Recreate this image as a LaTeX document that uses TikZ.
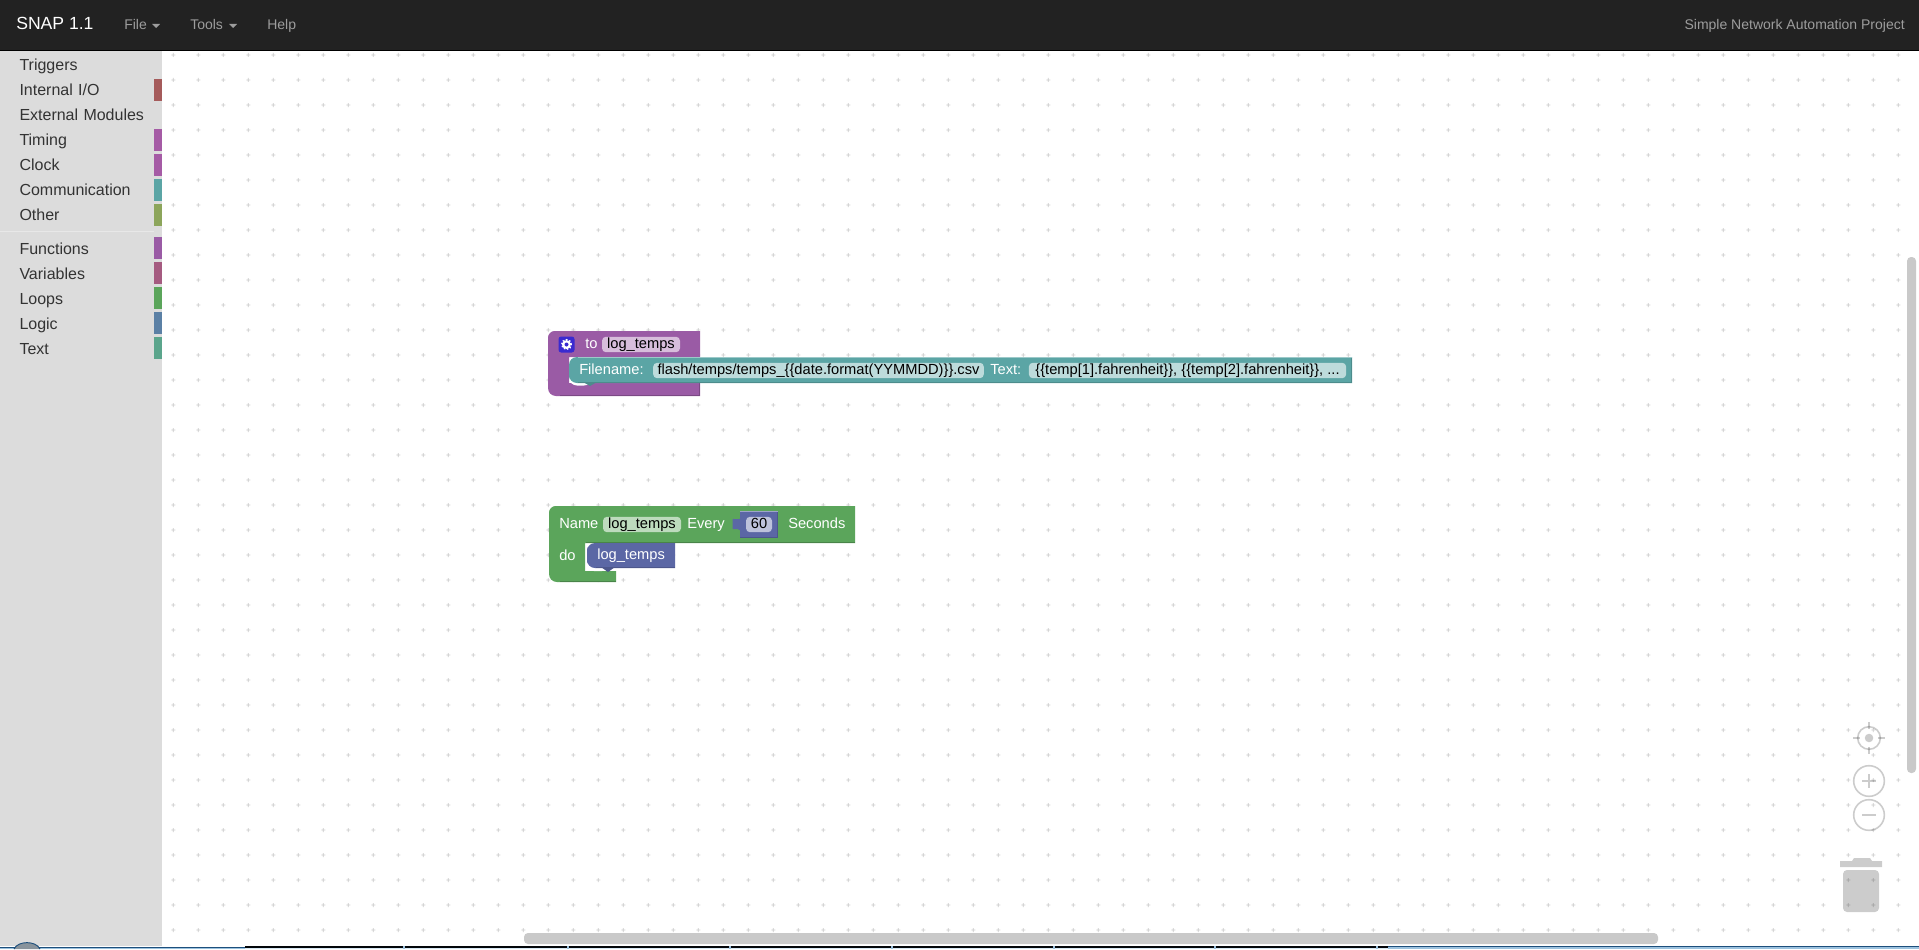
\documentclass[tikz,border=0pt]{standalone}
\usepackage{fontspec}
\setmainfont{Liberation Sans}
\usetikzlibrary{positioning}

\definecolor{navbg}{HTML}{222222}
\definecolor{navtext}{HTML}{9D9D9D}
\definecolor{sidebg}{HTML}{DCDCDC}
\definecolor{sidetext}{HTML}{333333}
\definecolor{purpleblock}{HTML}{9A5BA5}
\definecolor{purplefield}{HTML}{D7BDDB}
\definecolor{tealblock}{HTML}{5BA5A5}
\definecolor{tealfield}{HTML}{BDDBDB}
\definecolor{greenblock}{HTML}{5BA55B}
\definecolor{greenfield}{HTML}{BDDBBD}
\definecolor{blueblock}{HTML}{5B67A5}
\definecolor{bluefield}{HTML}{BDC2DB}
\definecolor{gearblue}{HTML}{3A2AD0}
\definecolor{redtab}{HTML}{A55B5B}
\definecolor{magentatab}{HTML}{A55BA5}
\definecolor{olivetab}{HTML}{8CA55B}
\definecolor{rosetab}{HTML}{A55B80}
\definecolor{slatetab}{HTML}{5B80A5}
\definecolor{minttab}{HTML}{5BA58C}
\definecolor{taskblue}{HTML}{9CC2DE}
\definecolor{tasknavy}{HTML}{1D4F7C}

\begin{document}
\begin{tikzpicture}[
    x=0.75pt, y=-0.75pt,
    navitem/.style={text=navtext, font=\fontsize{10.5}{12}\selectfont, inner sep=0pt, anchor=west, text height=8pt, text depth=2.5pt},
    sideitem/.style={text=sidetext, font=\fontsize{12}{14}\selectfont, inner sep=0pt, outer sep=0pt, text width=105pt, align=left, minimum height=18.75pt, text height=9pt, text depth=3pt},
    swatch/.style={minimum width=6pt, minimum height=16.5pt, inner sep=0pt, outer sep=0pt, anchor=north west},
    blocktext/.style={text=white, font=\fontsize{11}{13}\selectfont, inner sep=0pt, anchor=west, text height=8pt, text depth=2.5pt},
    fieldbox/.style={rounded corners=3pt, minimum height=11.6pt, inner sep=0pt, text=black, font=\fontsize{11}{13}\selectfont, text height=8pt, text depth=2.5pt},
    icon/.style={draw=black, draw opacity=0.2, line width=1.2pt},
    iconfill/.style={fill=black, fill opacity=0.2}
]

% Canvas and dots
\useasboundingbox (0,0) rectangle (1919,949);
\fill[white] (0,0) rectangle (1919,949);
\foreach \px in {0,...,69}
  \foreach \py in {0,...,35}
    \fill[black!20] ({173.3+25*\px-2},{55+25*\py-0.4}) rectangle ({173.3+25*\px+2},{55+25*\py+0.4})
                    ({173.3+25*\px-0.4},{55+25*\py-2}) rectangle ({173.3+25*\px+0.4},{55+25*\py+2});

% Top bar
\fill[navbg] (0,0) rectangle (1919,50);
\fill[black] (0,50) rectangle (1919,51);
\node[navitem, text=white, font=\fontsize{13.2}{15}\selectfont] (brand) at (16,25.5) {SNAP 1.1};
\node[navitem] (filemenu) at (124,25.5) {File};
\node[navitem] (toolsmenu) at (190,25.5) {Tools};
\node[navitem] (helpmenu) at (267,25.5) {Help};
\node[navitem, anchor=east] (project) at (1905,25.5) {Simple Network Automation Project};
\fill[navtext] (152,24) -- (160,24) -- (156,28) -- cycle;
\fill[navtext] (229,24) -- (237,24) -- (233,28) -- cycle;

% Side bar
\fill[sidebg] (0,51) rectangle (162,946);
\fill[white!35!sidebg] (0,231) rectangle (154,232);
\node[sideitem, anchor=west] (triggers) at (19.5,66.8) {Triggers};
\node[sideitem, below=0pt of triggers] (internal) {Internal I/O};
\node[sideitem, below=0pt of internal] (external) {External Modules};
\node[sideitem, below=0pt of external] (timing) {Timing};
\node[sideitem, below=0pt of timing] (clock) {Clock};
\node[sideitem, below=0pt of clock] (communication) {Communication};
\node[sideitem, below=0pt of communication] (other) {Other};
\node[sideitem, anchor=west] (functions) at (19.5,250) {Functions};
\node[sideitem, below=0pt of functions] (variables) {Variables};
\node[sideitem, below=0pt of variables] (loops) {Loops};
\node[sideitem, below=0pt of loops] (logic) {Logic};
\node[sideitem, below=0pt of logic] (textitem) {Text};

% Colour tabs
\node[swatch, fill=redtab] (tabinternal) at (154,79) {};
\node[swatch, fill=magentatab] (tabtiming) at (154,129) {};
\node[swatch, fill=magentatab] (tabclock) at (154,154) {};
\node[swatch, fill=tealblock] (tabcomm) at (154,179) {};
\node[swatch, fill=olivetab] (tabother) at (154,204) {};
\node[swatch, fill=purpleblock] (tabfunctions) at (154,237) {};
\node[swatch, fill=rosetab] (tabvariables) at (154,262) {};
\node[swatch, fill=greenblock] (tabloops) at (154,287) {};
\node[swatch, fill=slatetab] (tablogic) at (154,312) {};
\node[swatch, fill=minttab] (tabtext) at (154,337) {};

% Function block
\fill[purpleblock, rounded corners=5pt] (548,360) -- (548,331) [sharp corners] -- (700,331) -- (700,357) -- (569,357) -- (569,383) -- (700,383) -- (700,396) [rounded corners=6pt] -- (548,396) -- (548,360) -- cycle;
\fill[purpleblock!80!black] (699,383) rectangle (700,396);
\fill[purpleblock!80!black] (560,395) rectangle (700,396);
\fill[white, rounded corners=6pt] (569,370) -- (569,385.5) -- (592,385.5) [sharp corners] -- (592,378) -- cycle;
\fill[tealblock, rounded corners=6pt] (569,372) -- (569,357) [sharp corners] -- (1352,357) -- (1352,383) [rounded corners=6pt] -- (569,383) -- (569,372) -- cycle;
\fill[tealblock!60!white] (578,357) rectangle (1352,358);
\fill[tealblock!85!black] (578,382) rectangle (1352,383);
\fill[tealblock!85!black] (1351,358) rectangle (1352,383);
\fill[tealblock!85!black] (583,382) -- (590,386) -- (597,382) -- cycle;
\node[fill=gearblue, rounded corners=2pt, minimum size=12pt, inner sep=0pt] (gear) at (566.5,344.5) {};
\fill[white] (gear.center) circle (3.3pt);
\draw[white, line width=1.1pt, dash pattern=on 1.2pt off 1.2pt] (gear.center) circle (3.6pt);
\fill[gearblue] (gear.center) circle (1.5pt);
\node[blocktext] (tolabel) at (585,344.5) {to};
\node[fieldbox, fill=purplefield, minimum width=58.5pt] (funcname) at (641,344.5) {log\_temps};
\node[blocktext] (filelabel) at (579,370.5) {Filename:};
\node[fieldbox, fill=tealfield, minimum width=248pt] (filename) at (818.5,370.5) {flash/temps/temps\_\{\{date.format(YYMMDD)\}\}.csv};
\node[blocktext] (textlabel) at (990,370.5) {Text:};
\node[fieldbox, fill=tealfield, minimum width=238pt] (textfield) at (1187.5,370.5) {\{\{temp[1].fahrenheit\}\}, \{\{temp[2].fahrenheit\}\}, ...};

% Timer block
\fill[greenblock, rounded corners=5pt] (549,530) -- (549,506) [sharp corners] -- (855,506) -- (855,543) -- (585,543) -- (585,571) -- (616,571) -- (616,582) [rounded corners=6pt] -- (549,582) -- (549,530) -- cycle;
\fill[greenblock!80!black] (586,542) rectangle (855,543);
\fill[greenblock!80!black] (560,581) rectangle (616,582);
\fill[white, rounded corners=6pt] (586,556) -- (586,571) -- (610,571) [sharp corners] -- (610,564) -- cycle;
\fill[blueblock, rounded corners=6pt] (587,555) -- (587,543) [sharp corners] -- (675,543) -- (675,568) [rounded corners=6pt] -- (587,568) -- (587,555) -- cycle;
\fill[blueblock!85!black] (596,567) rectangle (675,568);
\fill[blueblock!85!black] (601,567) -- (608,572) -- (615,567) -- cycle;
\node[blocktext] (namelabel) at (559,524.5) {Name};
\node[fieldbox, fill=greenfield, minimum width=58.5pt] (timername) at (642,524.5) {log\_temps};
\node[blocktext] (everylabel) at (687,524.5) {Every};
\fill[blueblock] (740,511) rectangle (778,538);
\fill[blueblock!60!white] (740,511) rectangle (778,512);
\fill[blueblock!85!black] (740,537) rectangle (778,538);
\fill[blueblock!85!black] (777,512) rectangle (778,538);
\fill[blueblock, rounded corners=1.5pt] (741,518) -- (736,520) -- (732.5,518) -- (732.5,530) -- (736,528) -- (741,531) -- cycle;
\node[fieldbox, fill=bluefield, minimum width=19.5pt] (seconds) at (759,524.5) {60};
\node[blocktext] (secondslabel) at (788,524.5) {Seconds};
\node[blocktext] (dolabel) at (559,556.5) {do};
\node[blocktext] (calllabel) at (597,556) {log\_temps};

% Zoom and trash controls
\draw[icon] (1869,738) circle (8.5pt);
\draw[icon] (1853,738) -- (1860,738) (1878,738) -- (1885,738) (1869,722) -- (1869,729) (1869,747) -- (1869,754);
\fill[iconfill] (1869,738) circle (3.2pt);
\draw[icon] (1869,781) circle (11.5pt);
\draw[icon] (1862,781) -- (1876,781) (1869,774) -- (1869,788);
\draw[icon] (1869,815) circle (11.5pt);
\draw[icon] (1862,815) -- (1876,815);
\fill[iconfill] (1840,861) -- (1852,861) -- (1854,858) -- (1870,858) -- (1872,861) -- (1882,861) -- (1882,867) -- (1840,867) -- cycle;
\fill[iconfill, rounded corners=3pt] (1843,870) -- (1879,870) -- (1879,912) -- (1843,912) -- cycle;

% Scroll bars
\fill[black!21, rounded corners=3pt] (1907,257) rectangle (1916,773);
\fill[black!21, rounded corners=3pt] (524,933) rectangle (1658,944);

% Task bar strip
\fill[black!92!tasknavy] (245,946) rectangle (1388,947.5);
\fill[taskblue!40!white] (245,947.5) rectangle (1388,949);
\fill[tasknavy] (0,946.7) rectangle (245,947.7);
\fill[taskblue] (0,947.7) rectangle (245,949);
\fill[tasknavy] (1388,946) rectangle (1919,947);
\fill[taskblue] (1388,947) rectangle (1919,949);
\foreach \sepx in {403,567,729,891,1053,1214,1376}
  \fill[taskblue] (\sepx,946) rectangle (\sepx+2,949);
\filldraw[fill=gray!70!taskblue, draw=tasknavy, line width=0.7pt] (14,949) .. controls (18,940.5) and (36,940.5) .. (40,949);

\end{tikzpicture}
\end{document}
